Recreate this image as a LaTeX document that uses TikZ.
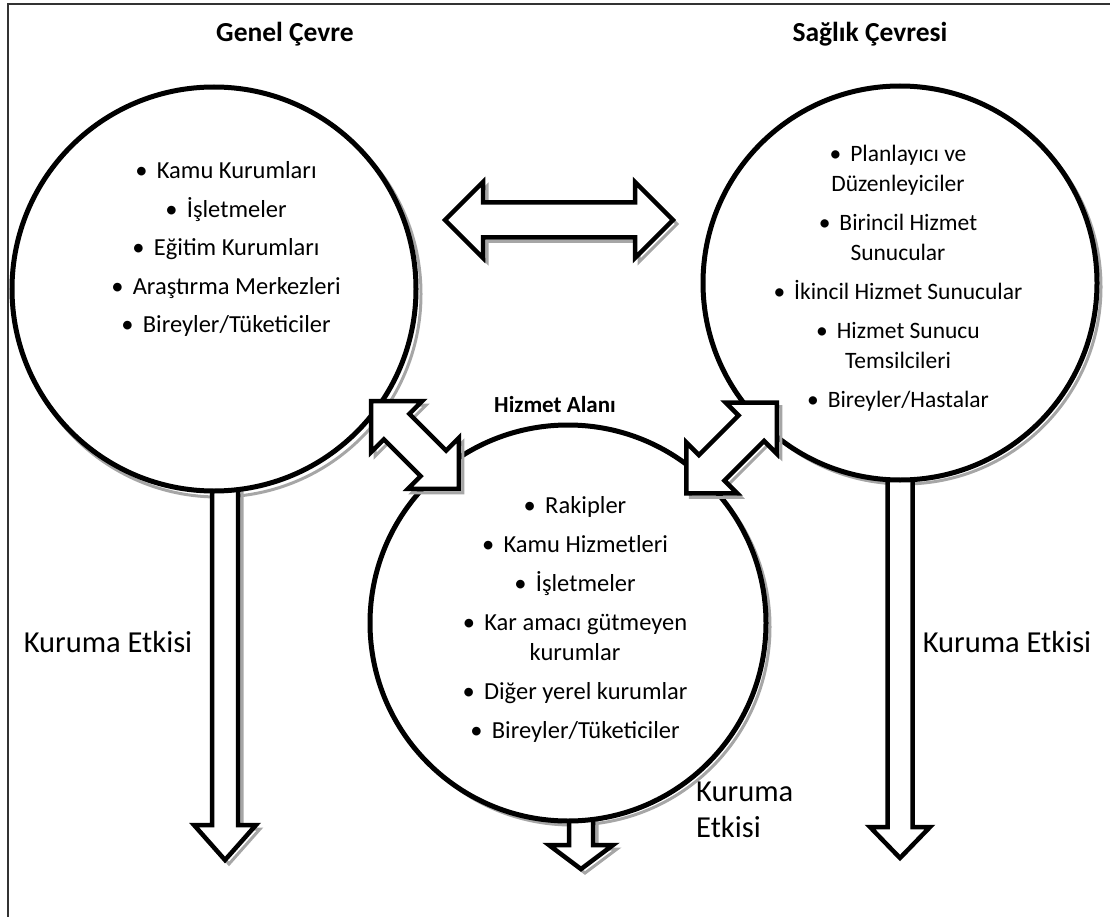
\documentclass[tikz,border=0pt]{standalone}
\usepackage{fontspec}
\setmainfont{Carlito}
\newcommand{\dblarrowpath}[4]{(-#1,0) -- (-#1+#2,#3) -- (-#1+#2,#4) -- (#1-#2,#4) -- (#1-#2,#3) -- (#1,0) -- (#1-#2,-#3) -- (#1-#2,-#4) -- (-#1+#2,-#4) -- (-#1+#2,-#3) -- cycle}
\newcommand{\bul}{•\hspace{0.38em}}
\begin{document}
\begin{tikzpicture}[x=1pt,y=-1pt,
  shadowline/.style={draw=black!35, line width=3pt, line join=miter},
  blockshape/.style={draw=black, line width=4.5pt, fill=white, line join=miter},
  ring/.style={circle, draw=black, line width=5pt, fill=white, inner sep=0pt},
  lbl/.style={font=\fontsize{24.5}{30}\selectfont, align=center, inner sep=0pt},
  lbls/.style={font=\fontsize{23.5}{30}\selectfont, align=center, inner sep=0pt},
  ttl/.style={font=\bfseries\fontsize{27.5}{30}\selectfont, inner sep=0pt},
  eff/.style={font=\fontsize{30.5}{36}\selectfont, inner sep=0pt, align=left}]
\useasboundingbox (0,0) rectangle (1110,917);
% frame
\draw[black!80, line width=1.6pt] (8,917) -- (8,4) -- (1110,4);
% circle shadows
\draw[shadowline] (218,294) circle[radius=203];
\draw[shadowline] (904,287) circle[radius=197];
\draw[shadowline] (572,627) circle[radius=198];
% down arrow shadows
\draw[shadowline] (216,474) -- (216,829) -- (198,829) -- (229,864) -- (260,829) -- (242,829) -- (242,474) -- cycle;
\draw[shadowline] (573,804) -- (573,849) -- (553,849) -- (585,873) -- (617,849) -- (597,849) -- (597,804) -- cycle;
% down arrows
\draw[blockshape] (212,470) -- (212,825) -- (194,825) -- (225,860) -- (256,825) -- (238,825) -- (238,470) -- cycle;
\draw[blockshape] (569,800) -- (569,845) -- (549,845) -- (581,869) -- (613,845) -- (593,845) -- (593,800) -- cycle;
\draw[blockshape] (887.5,460) -- (887.5,827) -- (870,827) -- (900,858) -- (930,827) -- (912.5,827) -- (912.5,460) -- cycle;
% circles
\node[ring, minimum size=404pt] (genel) at (214,289) {};
\node[ring, minimum size=394pt] (saglik) at (900,283) {};
\node[ring, minimum size=396pt] (hizmet) at (568,623) {};
% top double arrow
\begin{scope}[shift={(563,224)}]
\draw[shadowline] \dblarrowpath{114}{38}{38}{17.5};
\end{scope}
\begin{scope}[shift={(559,220)}]
\draw[blockshape] \dblarrowpath{114}{38}{38}{17.5};
\end{scope}
% diagonal arrows
\begin{scope}[shift={(419,449)}, rotate=-45]
\draw[shadowline] \dblarrowpath{62}{36}{36}{18};
\end{scope}
\begin{scope}[shift={(415,445)}, rotate=-45]
\draw[blockshape] \dblarrowpath{62}{36}{36}{18};
\end{scope}
\begin{scope}[shift={(735.5,452)}, rotate=45]
\draw[shadowline] \dblarrowpath{64}{36}{36}{18};
\end{scope}
\begin{scope}[shift={(731.5,448)}, rotate=45]
\draw[blockshape] \dblarrowpath{64}{36}{36}{18};
\end{scope}
% titles
\node[ttl] (t1) at (285,34) {Genel Çevre};
\node[ttl] (t2) at (870,34) {Sağlık Çevresi};
\node[ttl, font=\bfseries\fontsize{23}{28}\selectfont] (t3) at (555,405) {Hizmet Alanı};
% lists
\node[lbl] (l1) at (226,249) {\bul Kamu Kurumları\\[8.5pt]\bul İşletmeler\\[8.5pt]\bul Eğitim Kurumları\\[8.5pt]\bul Araştırma Merkezleri\\[8.5pt]\bul Bireyler/Tüketiciler};
\node[lbls] (l2) at (898,278) {\bul Planlayıcı ve\\Düzenleyiciler\\[9pt]\bul Birincil Hizmet\\Sunucular\\[9pt]\bul İkincil Hizmet Sunucular\\[9pt]\bul Hizmet Sunucu\\Temsilcileri\\[9pt]\bul Bireyler/Hastalar};
\node[lbl] (l3) at (575,619) {\bul Rakipler\\[9pt]\bul Kamu Hizmetleri\\[9pt]\bul İşletmeler\\[9pt]\bul Kar amacı gütmeyen\\kurumlar\\[9pt]\bul Diğer yerel kurumlar\\[9pt]\bul Bireyler/Tüketiciler};
% effects
\node[eff] (e1) at (108,642) {Kuruma Etkisi};
\node[eff] (e2) at (1007,642) {Kuruma Etkisi};
\node[eff, anchor=west] (e3) at (696,810) {Kuruma\\Etkisi};
\end{tikzpicture}
\end{document}
